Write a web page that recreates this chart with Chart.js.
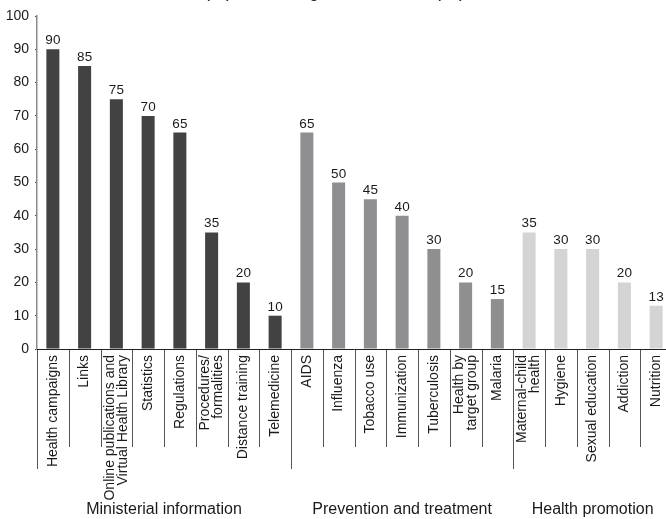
<!DOCTYPE html>
<html>
<head>
<meta charset="utf-8">
<script src="https://cdn.jsdelivr.net/npm/chart.js@4.4.1/dist/chart.umd.min.js"></script>
<style>
  html, body { margin: 0; padding: 0; background: #fff; overflow: hidden; }
  #wrap { width: 666px; height: 519px; overflow: hidden; }
  canvas { display: block; }
</style>
</head>
<body>
<div id="wrap"><canvas id="chart" width="680" height="519"></canvas></div>
<script>
// --- data ---
const categories = [
  'Health campaigns', 'Links', ['Online publications and', 'Virtual Health Library'], 'Statistics',
  'Regulations', ['Procedures/', 'formalities'], 'Distance training', 'Telemedicine',
  'AIDS', 'Influenza', 'Tobacco use', 'Immunization', 'Tuberculosis', ['Health by', 'target group'], 'Malaria',
  ['Maternal-child', 'health'], 'Hygiene', 'Sexual education', 'Addiction', 'Nutrition'
];
const values = [90, 85, 75, 70, 65, 35, 20, 10, 65, 50, 45, 40, 30, 20, 15, 35, 30, 30, 20, 13];
const groups = ['Ministerial information', 'Prevention and treatment', 'Health promotion'];
const groupSizes = [8, 7, 5];
const groupColors = ['#424242', '#8f8f92', '#d4d4d5'];
const yTicks = [0, 10, 20, 30, 40, 50, 60, 70, 80, 90, 100];
const titleText = '(%) Percentage of ministries (all)';

const FONT = '"Liberation Sans", Arial, Helvetica, sans-serif';

// colour of each bar follows its group
const barColors = [];
groupSizes.forEach((n, g) => { for (let i = 0; i < n; i++) barColors.push(groupColors[g]); });

// labels, separators, group names and the (cropped) title
const decorations = {
  id: 'decorations',
  afterDatasetsDraw(chart) {
    const { ctx, chartArea, scales } = chart;
    const x = scales.x, y = scales.y;
    const step = x.getPixelForValue(1) - x.getPixelForValue(0);
    const base = y.getPixelForValue(0);

    ctx.save();
    // value labels
    ctx.fillStyle = '#1a1a1a';
    ctx.font = '13.5px ' + FONT;
    ctx.textAlign = 'center';
    ctx.textBaseline = 'alphabetic';
    values.forEach((v, i) => {
      ctx.fillText(String(v), x.getPixelForValue(i), y.getPixelForValue(v) - 5);
    });

    // separators below the axis
    ctx.strokeStyle = '#555';
    ctx.lineWidth = 1;
    const groupEnds = [0];
    groupSizes.reduce((acc, n) => { groupEnds.push(acc + n); return acc + n; }, 0);
    for (let i = 0; i <= categories.length; i++) {
      const px = Math.round(x.getPixelForValue(i) - step / 2) + 0.5;
      const long = groupEnds.includes(i);
      ctx.beginPath();
      ctx.moveTo(px, base);
      ctx.lineTo(px, long ? 469 : 447);
      ctx.stroke();
    }

    // category labels, rotated
    ctx.fillStyle = '#1a1a1a';
    ctx.font = '14px ' + FONT;
    ctx.textAlign = 'right';
    ctx.textBaseline = 'middle';
    const lh = 13;
    categories.forEach((c, i) => {
      const lines = Array.isArray(c) ? c : [c];
      const cx = x.getPixelForValue(i);
      ctx.save();
      ctx.translate(cx, base + 6);
      ctx.rotate(-Math.PI / 2);
      lines.forEach((ln, k) => {
        ctx.fillText(ln, 0, (k - (lines.length - 1) / 2) * lh);
      });
      ctx.restore();
    });

    // group names
    ctx.font = '16px ' + FONT;
    ctx.textAlign = 'center';
    ctx.textBaseline = 'middle';
    let start = 0;
    groups.forEach((g, gi) => {
      const end = start + groupSizes[gi];
      const left = x.getPixelForValue(start) - step / 2;
      const right = x.getPixelForValue(end - 1) + step / 2;
      ctx.fillText(g, (left + right) / 2, 510);
      start = end;
    });

    // title, cut off by the top edge
    ctx.font = '18px ' + FONT;
    ctx.textAlign = 'left';
    ctx.textBaseline = 'alphabetic';
    ctx.fillText(titleText, 204, -3);

    // x axis line
    ctx.strokeStyle = '#222';
    ctx.beginPath();
    ctx.moveTo(chartArea.left, Math.round(base) + 0.5);
    ctx.lineTo(chartArea.right, Math.round(base) + 0.5);
    ctx.stroke();
    ctx.restore();
  }
};

new Chart(document.getElementById('chart'), {
  type: 'bar',
  data: {
    labels: categories,
    datasets: [{
      data: values,
      backgroundColor: barColors,
      borderWidth: 0,
      barPercentage: 0.41,
      categoryPercentage: 1
    }]
  },
  options: {
    responsive: false,
    animation: false,
    layout: { padding: { top: 16, right: 8, left: 0, bottom: 0 } },
    plugins: { legend: { display: false }, tooltip: { enabled: false }, title: { display: false } },
    scales: {
      x: {
        grid: { display: false, drawTicks: false },
        border: { display: false },
        ticks: { display: false },
        afterFit(scale) { scale.height = 170; }
      },
      y: {
        min: 0, max: 100,
        afterBuildTicks(scale) { scale.ticks = yTicks.map(v => ({ value: v })); },
        grid: { drawOnChartArea: false, drawTicks: true, tickLength: 2, color: '#444' },
        border: { display: true, color: '#8a8a8a', width: 1.5 },
        ticks: { color: '#1a1a1a', font: { family: FONT, size: 14 }, padding: 6 },
        afterFit(scale) { scale.width = 37; }
      }
    }
  },
  plugins: [decorations]
});
</script>
</body>
</html>
